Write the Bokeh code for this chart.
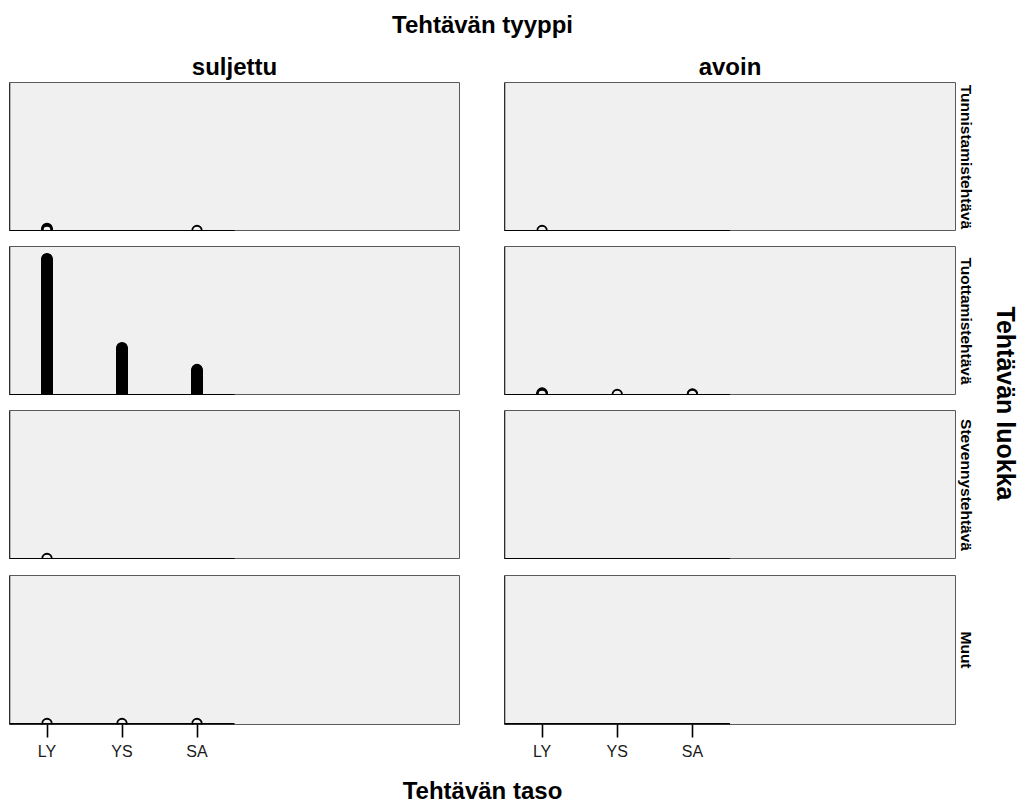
from bokeh.plotting import figure
from bokeh.layouts import column, row
from bokeh.models import Title, Span, FixedTicker, Range1d, ColumnDataSource
from bokeh.embed import file_html
from bokeh.resources import INLINE

FONT = "Liberation Sans"

# ---- data -------------------------------------------------------------
levels = ["LY", "YS", "SA"]
level_pos = [1, 2, 3]
types = ["suljettu", "avoin"]
classes = ["Tunnistamistehtävä", "Tuottamistehtävä", "Stevennystehtävä", "Muut"]

# number of stacked observations per level (LY, YS, SA)
suljettu_tunnistamis = [5, 0, 1]
suljettu_tuottamis = [250, 87, 47]
suljettu_stevennys = [1, 0, 0]
suljettu_muut = [1, 1, 1]
avoin_tunnistamis = [1, 0, 0]
avoin_tuottamis = [4, 1, 2]
avoin_stevennys = [0, 0, 0]
avoin_muut = [0, 0, 0]

counts = {
    "suljettu": [suljettu_tunnistamis, suljettu_tuottamis, suljettu_stevennys, suljettu_muut],
    "avoin": [avoin_tunnistamis, avoin_tuottamis, avoin_stevennys, avoin_muut],
}

# ---- layout constants ---------------------------------------------------
X_START, X_END = 0.5, 6.5
Y_START, Y_END = -1.8, 271.1
LEFT_W, RIGHT_W, LAB_W = 482, 500, 40
FRAME_H = 149
HEADER_H = 45
TOPS = [37, 15, 15, 16]
BOTTOM_B = 50
TITLE_SIZE = "24px"


def style_title(t, size=TITLE_SIZE, standoff=2):
    t.align = "center"
    t.text_font = FONT
    t.text_font_size = size
    t.text_font_style = "bold"
    t.text_color = "black"
    t.standoff = standoff
    return t


def stack_source(cnts):
    xs, ys = [], []
    for pos, c in zip(level_pos, cnts):
        for i in range(c):
            xs.append(pos)
            ys.append(i)
    return ColumnDataSource(dict(x=xs, y=ys))


def make_panel(ci, ri):
    is_left = ci == 0
    last = ri == 3
    tb = TOPS[ri]
    bb = BOTTOM_B if last else 0
    p = figure(
        width=LEFT_W if is_left else RIGHT_W,
        height=tb + FRAME_H + bb,
        x_range=Range1d(X_START, X_END),
        y_range=Range1d(Y_START, Y_END),
        output_backend="svg",
        toolbar_location=None,
        min_border_left=9 if is_left else 22,
        min_border_right=23 if is_left else 27,
        min_border_top=tb,
        min_border_bottom=bb,
        x_axis_location="below" if last else None,
        y_axis_location=None,
        background_fill_color="#F0F0F0",
        border_fill_color="white",
        outline_line_color="#5a5a5a",
        outline_line_width=1,
    )
    p.grid.visible = False
    if ri == 0:
        p.add_layout(style_title(Title(text=types[ci]), standoff=5), "above")
    if not is_left:
        p.add_layout(style_title(Title(text=classes[ri]), size="15.5px", standoff=4), "right")
    if last:
        ax = p.xaxis[0]
        ax.ticker = FixedTicker(ticks=level_pos)
        ax.major_label_overrides = {pos: lab for pos, lab in zip(level_pos, levels)}
        ax.axis_line_color = None
        ax.major_tick_out = 13
        ax.major_tick_in = 0
        ax.major_tick_line_color = "black"
        ax.major_tick_line_width = 1.6
        ax.minor_tick_line_color = None
        ax.major_label_standoff = 5
        ax.major_label_text_font = FONT
        ax.major_label_text_font_size = "16px"
        ax.major_label_text_color = "#1a1a1a"

    # panel borders: left black, bottom black along the axis extent
    p.add_layout(Span(location=X_START, dimension="height", line_color="black", line_width=1.5))
    p.segment(x0=[X_START], y0=[Y_START], x1=[3.5], y1=[Y_START], line_color="black", line_width=3)

    src = stack_source(counts[types[ci]][ri])
    p.scatter("x", "y", source=src, marker="circle", size=9.5, fill_color=None,
              line_color="black", line_width=1.8)
    return p


left_col = column(*[make_panel(0, r) for r in range(4)])
right_col = column(*[make_panel(1, r) for r in range(4)])

grid_h = sum(TOPS) + 4 * FRAME_H + BOTTOM_B

lab = figure(width=LAB_W, height=grid_h, output_backend="svg", toolbar_location=None,
             min_border_left=0, min_border_right=0, min_border_top=TOPS[0],
             min_border_bottom=BOTTOM_B, x_axis_location=None, y_axis_location=None,
             outline_line_color=None, background_fill_color="white")
lab.grid.visible = False
lab.add_layout(style_title(Title(text="Tehtävän luokka"), size="25px", standoff=2), "right")

header = figure(width=1028, height=HEADER_H, output_backend="svg", toolbar_location=None,
                min_border_left=9, min_border_right=73, min_border_top=38, min_border_bottom=0,
                x_axis_location=None, y_axis_location=None, outline_line_color=None,
                title="Tehtävän tyyppi")
header.grid.visible = False
style_title(header.title, standoff=2)

footer_h = 805 - HEADER_H - grid_h
footer = figure(width=1028, height=footer_h, output_backend="svg", toolbar_location=None,
                min_border_left=9, min_border_right=73, min_border_top=0, min_border_bottom=0,
                x_axis_location=None, y_axis_location=None, outline_line_color=None,
                title="Tehtävän taso")
footer.grid.visible = False
style_title(footer.title, standoff=0)

page = column(header, row(left_col, right_col, lab), footer)

open("out.html", "w").write(file_html(page, INLINE))
